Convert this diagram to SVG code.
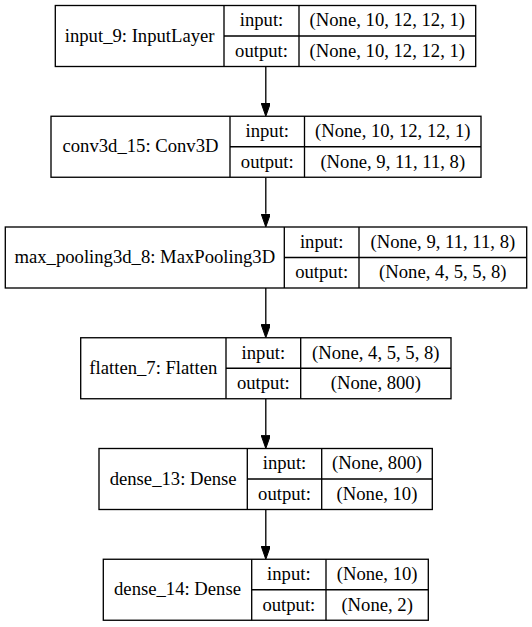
<svg xmlns="http://www.w3.org/2000/svg" width="532" height="627" viewBox="0 0 532 627">
<style>
.box{fill:#fff;stroke:#000;stroke-width:1.33}
.ln{stroke:#000;stroke-width:1.33;fill:none}
text{font-family:'Liberation Serif',serif;font-size:18.67px;fill:#000;text-anchor:middle}
.edge{stroke:#000;stroke-width:1.33;fill:none}
</style>
<defs>
<marker id="arr" markerUnits="userSpaceOnUse" viewBox="0 0 13.3 9.33" markerWidth="13.3" markerHeight="9.33" refX="0" refY="4.67" orient="auto">
<path d="M0,0 L13.3,4.67 L0,9.33 Z" fill="#000" stroke="#000" stroke-width="1"/>
</marker>
</defs>
<rect width="532" height="627" fill="#fff"/>
<g id="connectors">
<path class="edge" d="M265.8,66.5 V102.95" marker-end="url(#arr)"/>
<path class="edge" d="M265.8,177.25 V213.7" marker-end="url(#arr)"/>
<path class="edge" d="M265.8,288 V324.45" marker-end="url(#arr)"/>
<path class="edge" d="M265.8,398.75 V435.2" marker-end="url(#arr)"/>
<path class="edge" d="M265.8,509.5 V545.95" marker-end="url(#arr)"/>
</g>
<g id="input_9">
<rect class="box" x="55.3" y="5.5" width="420.4" height="61"/>
<path class="ln" d="M224,5.5 V66.5 M299,5.5 V66.5 M224,36 H475.7"/>
<text x="139.65" y="41.5" font-family="Liberation Serif">input_9: InputLayer</text>
<text x="261.5" y="26.3">input:</text>
<text x="261.5" y="56.8">output:</text>
<text x="387.35" y="26.3">(None, 10, 12, 12, 1)</text>
<text x="387.35" y="56.8">(None, 10, 12, 12, 1)</text>
</g>
<g id="conv3d_15">
<rect class="box" x="51" y="116.25" width="430" height="61"/>
<path class="ln" d="M230,116.25 V177.25 M304.5,116.25 V177.25 M230,146.75 H481"/>
<text x="140.5" y="152.25">conv3d_15: Conv3D</text>
<text x="267.25" y="137.05">input:</text>
<text x="267.25" y="167.55">output:</text>
<text x="392.75" y="137.05">(None, 10, 12, 12, 1)</text>
<text x="392.75" y="167.55">(None, 9, 11, 11, 8)</text>
</g>
<g id="max_pooling3d_8">
<rect class="box" x="5.3" y="227" width="521.4" height="61"/>
<path class="ln" d="M284.3,227 V288 M359,227 V288 M284.3,257.5 H526.7"/>
<text x="144.8" y="263">max_pooling3d_8: MaxPooling3D</text>
<text x="321.65" y="247.8">input:</text>
<text x="321.65" y="278.3">output:</text>
<text x="442.85" y="247.8">(None, 9, 11, 11, 8)</text>
<text x="442.85" y="278.3">(None, 4, 5, 5, 8)</text>
</g>
<g id="flatten_7">
<rect class="box" x="80.7" y="337.75" width="370.3" height="61"/>
<path class="ln" d="M226,337.75 V398.75 M300.7,337.75 V398.75 M226,368.25 H451"/>
<text x="153.35" y="373.75">flatten_7: Flatten</text>
<text x="263.35" y="358.55">input:</text>
<text x="263.35" y="389.05">output:</text>
<text x="375.85" y="358.55">(None, 4, 5, 5, 8)</text>
<text x="375.85" y="389.05">(None, 800)</text>
</g>
<g id="dense_13">
<rect class="box" x="99" y="448.5" width="333.3" height="61"/>
<path class="ln" d="M247.3,448.5 V509.5 M321.7,448.5 V509.5 M247.3,479 H432.3"/>
<text x="173.15" y="484.5">dense_13: Dense</text>
<text x="284.5" y="469.3">input:</text>
<text x="284.5" y="499.8">output:</text>
<text x="377" y="469.3">(None, 800)</text>
<text x="377" y="499.8">(None, 10)</text>
</g>
<g id="dense_14">
<rect class="box" x="103.3" y="559.25" width="325" height="61"/>
<path class="ln" d="M251.7,559.25 V620.25 M326,559.25 V620.25 M251.7,589.75 H428.3"/>
<text x="177.5" y="595.25">dense_14: Dense</text>
<text x="288.85" y="580.05">input:</text>
<text x="288.85" y="610.55">output:</text>
<text x="377.15" y="580.05">(None, 10)</text>
<text x="377.15" y="610.55">(None, 2)</text>
</g>
</svg>
